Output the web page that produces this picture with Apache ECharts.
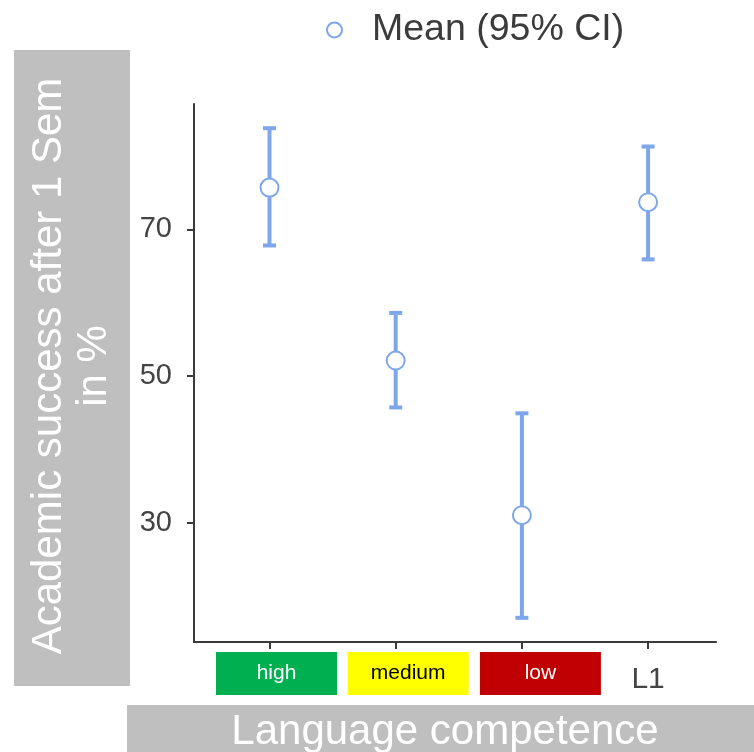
<!DOCTYPE html>
<html>
<head>
<meta charset="utf-8">
<script src="https://cdn.jsdelivr.net/npm/echarts@6/dist/echarts.min.js"></script>
<style>
html,body{margin:0;padding:0;background:#fff;}
#chart{width:754px;height:752px;}
</style>
</head>
<body>
<div id="chart"></div>
<script>
// ---- data ----
var categories = ['high', 'medium', 'low', 'L1'];
var meanValues = [75.7, 52.1, 31.0, 73.7];
var ciLower    = [67.8, 45.7, 17.0, 65.9];
var ciUpper    = [83.8, 58.6, 44.9, 81.3];
var yTickValues = [30, 50, 70];
var legendName = 'Mean (95% CI)';
var yTitle = 'Academic success after 1 Sem\nin %';
var xTitle = 'Language competence';

var FONT = "'Liberation Sans', Arial, sans-serif";
var BLUE = '#7ea6ea';
var AXIS = '#3a3a3a';
var Y_MIN = 13.7, Y_MAX = 87.1;

var meanData = categories.map(function (c, i) { return [c, meanValues[i]]; });
var ciData = categories.map(function (c, i) { return [c, ciLower[i], ciUpper[i]]; });

var chart = echarts.init(document.getElementById('chart'), null, {renderer: 'canvas'});

var richLabels = {
  s0: {width: 14}, s1: {width: 25}, s2: {width: 37},
  b0: {backgroundColor: '#00b050', color: '#ffffff', width: 121, height: 43, lineHeight: 43, align: 'center', fontSize: 21, fontFamily: FONT},
  b1: {backgroundColor: '#ffff00', color: '#000000', width: 121, height: 43, lineHeight: 43, align: 'center', fontSize: 21, fontFamily: FONT},
  b2: {backgroundColor: '#c00000', color: '#ffffff', width: 121, height: 43, lineHeight: 43, align: 'center', fontSize: 21, fontFamily: FONT},
  l3: {color: '#444444', fontSize: 30, lineHeight: 55, fontFamily: FONT}
};

var option = {
  animation: false,
  backgroundColor: '#ffffff',
  textStyle: {fontFamily: FONT},
  legend: {
    data: [legendName],
    left: 321,
    top: 6,
    icon: 'circle',
    itemWidth: 15,
    itemHeight: 15,
    textStyle: {fontSize: 37.5, color: '#3b3b3b', fontFamily: FONT, padding: [0, 0, 0, 25]}
  },
  grid: [
    // frame grid: axis lines and y ticks
    {left: 194, right: 38, top: 104, bottom: 110},
    // plotting grid: category bands
    {left: 206.4, right: 42.8, top: 104, bottom: 110}
  ],
  xAxis: [
    {
      gridIndex: 0, type: 'value', min: 0, max: 1,
      splitLine: {show: false},
      axisLine: {show: true, lineStyle: {color: AXIS, width: 2}},
      axisTick: {show: false},
      axisLabel: {show: false}
    },
    {
      gridIndex: 1, type: 'category', data: categories, boundaryGap: true,
      splitLine: {show: false},
      axisLine: {show: false},
      axisTick: {show: true, alignWithLabel: true, length: 7, lineStyle: {color: AXIS, width: 2}},
      axisLabel: {
        show: true,
        interval: 0,
        margin: 10,
        formatter: function (v, i) {
          if (i < 3) { return '{s' + i + '| }{b' + i + '|' + v + '}'; }
          return '{l3|' + v + '}';
        },
        rich: richLabels
      }
    }
  ],
  yAxis: [
    {
      gridIndex: 0, type: 'value', min: Y_MIN, max: Y_MAX,
      splitLine: {show: false},
      axisLine: {show: true, lineStyle: {color: AXIS, width: 2}},
      axisTick: {show: true, length: 7, lineStyle: {color: AXIS, width: 2}, customValues: yTickValues},
      axisLabel: {show: true, margin: 22, customValues: yTickValues, color: '#444444', fontSize: 29, fontFamily: FONT}
    },
    {
      gridIndex: 1, type: 'value', min: Y_MIN, max: Y_MAX, show: false,
      splitLine: {show: false}
    }
  ],
  series: [
    {
      type: 'custom',
      name: 'CI',
      xAxisIndex: 1, yAxisIndex: 1,
      z: 2,
      data: ciData,
      renderItem: function (params, api) {
        var x = api.value(0);
        var lo = api.coord([x, api.value(1)]);
        var hi = api.coord([x, api.value(2)]);
        var hw = 6.5;
        var st = {stroke: BLUE, lineWidth: 4};
        return {
          type: 'group',
          children: [
            {type: 'line', shape: {x1: lo[0], y1: lo[1], x2: hi[0], y2: hi[1]}, style: st},
            {type: 'line', shape: {x1: lo[0] - hw, y1: lo[1], x2: lo[0] + hw, y2: lo[1]}, style: st},
            {type: 'line', shape: {x1: hi[0] - hw, y1: hi[1], x2: hi[0] + hw, y2: hi[1]}, style: st}
          ]
        };
      }
    },
    {
      type: 'scatter',
      name: legendName,
      xAxisIndex: 1, yAxisIndex: 1,
      z: 3,
      data: meanData,
      symbol: 'circle',
      symbolSize: 18,
      itemStyle: {color: '#ffffff', borderColor: BLUE, borderWidth: 2, opacity: 1}
    }
  ],
  graphic: [
    {
      type: 'rect', left: 14, top: 50, z: 10,
      shape: {width: 116, height: 636},
      style: {fill: '#bfbfbf'}
    },
    {
      type: 'text', x: 72, y: 366, rotation: Math.PI / 2, z: 11,
      style: {text: yTitle, fill: '#ffffff', font: '42px ' + FONT, lineHeight: 45, textAlign: 'center', textVerticalAlign: 'middle'}
    },
    {
      type: 'rect', left: 127, top: 705, z: 10,
      shape: {width: 627, height: 60},
      style: {fill: '#bfbfbf'}
    },
    {
      type: 'text', x: 445, y: 732, z: 11,
      style: {text: xTitle, fill: '#ffffff', font: '42px ' + FONT, textAlign: 'center', textVerticalAlign: 'middle'}
    }
  ]
};
chart.setOption(option);
</script>
</body>
</html>
